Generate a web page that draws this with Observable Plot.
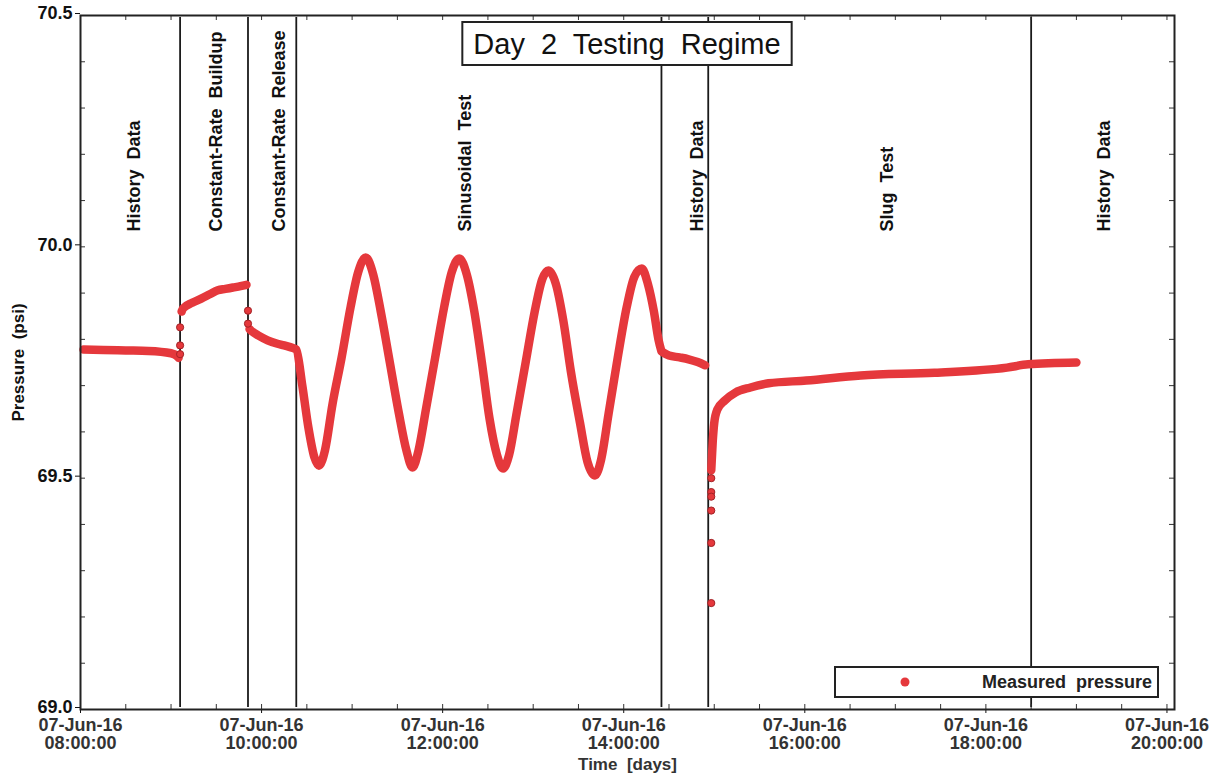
<!DOCTYPE html>
<html><head><meta charset="utf-8">
<script src="https://cdn.jsdelivr.net/npm/d3@7"></script>
<script src="https://cdn.jsdelivr.net/npm/@observablehq/plot@0.6"></script>
<style>
body{margin:0;background:#fff;}
#chart svg{display:block;}
</style></head><body><div id="chart"></div>
<script>
// ---- data (time on 07-Jun-16, pressure psi) ----
const historyA = [["08:02",69.778],["08:15",69.777],["08:30",69.776],["08:45",69.775],["09:00",69.770],["09:04",69.764],["09:05",69.760]];
const buildup = [["09:07",69.860],["09:08",69.867],["09:14",69.879],["09:20",69.888],["09:26",69.898],["09:31",69.906],["09:36",69.909],["09:41",69.912],["09:46",69.915],["09:50",69.918]];
const releaseSinusoid = [["09:52",69.822],["09:53",69.819],["09:58",69.808],["10:04",69.798],["10:10",69.791],["10:15",69.787],["10:21",69.781],["10:23",69.778],
 ["10:27",69.70],["10:31",69.61],["10:35",69.545],["10:38",69.527],["10:42",69.56],["10:47",69.66],["10:53",69.76],["10:59",69.87],["11:04",69.945],["11:09",69.977],
 ["11:14",69.94],["11:19",69.86],["11:25",69.75],["11:31",69.64],["11:36",69.56],["11:40",69.523],["11:44",69.56],["11:49",69.65],["11:55",69.76],["12:01",69.87],["12:06",69.945],["12:11",69.975],
 ["12:16",69.94],["12:21",69.86],["12:26",69.75],["12:31",69.63],["12:36",69.55],["12:40",69.521],["12:44",69.55],["12:49",69.64],["12:55",69.75],["13:01",69.86],["13:06",69.93],["13:10",69.949],
 ["13:15",69.92],["13:20",69.84],["13:25",69.73],["13:31",69.62],["13:36",69.535],["13:41",69.506],["13:45",69.54],["13:50",69.64],["13:56",69.76],["14:02",69.87],["14:07",69.935],["14:12",69.953],
 ["14:16",69.92],["14:20",69.86],["14:23",69.80],["14:25",69.774]];
const historyB = [["14:26",69.772],["14:30",69.765],["14:37",69.761],["14:43",69.757],["14:49",69.751],["14:54",69.744]];
const slugRecovery = [["14:58",69.517],["14:59",69.58],["15:00",69.62],["15:02",69.648],["15:07",69.668],["15:14",69.685],["15:24",69.696],["15:36",69.705],["16:01",69.711],["16:37",69.722],["17:26",69.728],["18:14",69.739],["18:28",69.746],["19:00",69.750]];
const sparseDots = [["09:06",69.768],["09:06",69.787],["09:06",69.826],["09:51",69.862],["09:51",69.834],
 ["14:58",69.50],["14:58",69.47],["14:58",69.46],["14:58",69.43],["14:58",69.36],["14:58",69.23]];
const boundaries = ["09:06","09:51","10:23","14:25","14:56","18:30"];
const regionNames = ["History  Data","Constant-Rate  Buildup","Constant-Rate  Release","Sinusoidal  Test","History  Data","Slug  Test","History  Data"];
const regionTimes = ["08:31","09:25","10:07","12:10","14:44","16:50","19:14"];
const xTickTimes = ["08:00","10:00","12:00","14:00","16:00","18:00","20:00"];
const yTickValues = [69.0,69.5,70.0,70.5];
const titleText = "Day  2  Testing  Regime";
const legendText = "Measured  pressure";

// ---- build ----
const T = s => { const [h,m] = s.split(":").map(Number); return new Date(Date.UTC(2016,5,7,h,m)); };
const segs = {historyA, buildup, releaseSinusoid, historyB, slugRecovery};
const rows = Object.entries(segs).flatMap(([seg,arr]) => arr.map(([t,p]) => ({t:T(t), p, seg})));
const dotRows = sparseDots.map(([t,p]) => ({t:T(t), p}));
const regions = regionNames.map((name,i) => ({name, t:T(regionTimes[i])}));

const RED = "#e5383c";
const FONT = "'Liberation Sans', Arial, sans-serif";
const W=1212, H=774, mL=80, mR=38, mT=15, mB=65;
const iW = W-mL-mR, iH = H-mT-mB;
const fmt = d3.utcFormat("%d-%b-%y\n%H:%M:%S");
const minorX = d3.utcMinute.every(30).range(T("08:00"), T("20:06"));

const chart = Plot.plot({
  width:W, height:H, marginLeft:mL, marginRight:mR, marginTop:mT, marginBottom:mB,
  style:{fontFamily:FONT, background:"#fff", color:"#111"},
  x:{type:"utc", domain:[T("08:00"),T("20:05")]},
  y:{domain:[69,70.5]},
  marks:[
    Plot.ruleX(boundaries.map(T), {stroke:"#1a1a1a", strokeWidth:1.8, insetTop:2, insetBottom:2}),
    Plot.line(rows, {x:"t", y:"p", z:"seg", stroke:RED, strokeWidth:8.5, curve:"monotone-x", strokeLinecap:"round", strokeLinejoin:"round"}),
    Plot.dot(dotRows, {x:"t", y:"p", r:3.6, fill:RED, stroke:"#a32226", strokeWidth:1}),
    Plot.text(regions, {x:"t", text:"name", frameAnchor:"top", dy:216, rotate:-90, textAnchor:"start", fontSize:18, fontWeight:"bold", fill:"#111"}),
    // minor ticks (inside)
    Plot.tickY(d3.range(69,70.51,0.1), {y:d=>d, insetRight:iW-5, stroke:"#333"}),
    Plot.tickY(d3.range(69,70.51,0.1), {y:d=>d, insetLeft:iW-5, stroke:"#333"}),
    Plot.tickX(minorX, {x:d=>d, insetTop:iH-5, stroke:"#333"}),
    Plot.tickX(minorX, {x:d=>d, insetBottom:iH-5, stroke:"#333"}),
    Plot.axisY({ticks:yTickValues, tickFormat:d3.format(".1f"), tickSize:5, tickPadding:3, fontSize:18, fontWeight:"bold", label:null, fill:"#111", dy:-2}),
    Plot.axisX({ticks:xTickTimes.map(T), tickFormat:fmt, tickSize:4, tickPadding:5, fontSize:18, fontWeight:"bold", label:null, fill:"#333", lineHeight:1.0}),
    Plot.text(["Pressure  (psi)"], {frameAnchor:"left", dx:-62, rotate:-90, textAnchor:"middle", fontSize:17, fontWeight:"bold", fill:"#111"}),
    Plot.text(["Time  [days]"], {frameAnchor:"bottom", dy:55, lineAnchor:"middle", textAnchor:"middle", fontSize:17, fontWeight:"bold", fill:"#333"}),
    Plot.frame({stroke:"#222", strokeWidth:2})
  ]
});
document.getElementById("chart").append(chart);

// ---- title box & legend (decorations) ----
const svg = d3.select(chart);
const tg = svg.append("g");
const tt = tg.append("text").attr("x", mL+iW/2).attr("y", 44).attr("text-anchor","middle").attr("dominant-baseline","central")
  .style("font-family", FONT).style("font-size","29px").attr("fill","#111").text(titleText);
const tb = tt.node().getBBox();
tg.insert("rect","text").attr("x", tb.x-11).attr("y", 22).attr("width", tb.width+22).attr("height", 43)
  .attr("fill","#fff").attr("stroke","#222").attr("stroke-width",2);

const lg = svg.append("g");
const lx1 = 835, lx2 = mL+iW-16, ly1 = 667, ly2 = 697;
lg.append("rect").attr("x",lx1).attr("y",ly1).attr("width",lx2-lx1).attr("height",ly2-ly1)
  .attr("fill","#fff").attr("stroke","#222").attr("stroke-width",2);
lg.append("circle").attr("cx",905).attr("cy",(ly1+ly2)/2).attr("r",4.5).attr("fill",RED);
lg.append("text").attr("x",lx2-6).attr("y",(ly1+ly2)/2).attr("text-anchor","end").attr("dominant-baseline","central")
  .style("font-family",FONT).style("font-size","18px").style("font-weight","bold").attr("fill","#222").text(legendText);
</script></body></html>
